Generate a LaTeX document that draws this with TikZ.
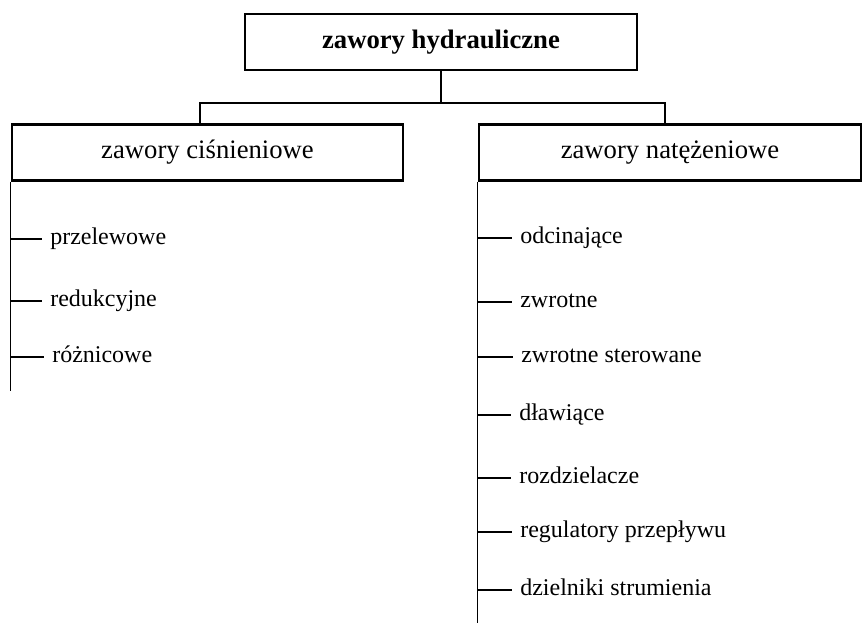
\documentclass[tikz,border=0pt]{standalone}
\usepackage{fontspec}
\setmainfont{Liberation Serif}
\begin{document}
\begin{tikzpicture}[x=0.75pt,y=-0.75pt,
  box/.style={draw,line width=2.2pt,minimum height=56*0.75pt,inner sep=0pt,font=\fontsize{20}{24}\selectfont},
  conn/.style={line width=0.8pt},
  branch/.style={line width=1.4pt},
  itm/.style={anchor=mid west,inner xsep=6pt,inner ysep=0pt,yshift=-1.5pt,font=\fontsize{18}{22}\selectfont}]
\useasboundingbox (0,0) rectangle (862,622);
\clip (0,0) rectangle (862,622);
\node[box,minimum width=392*0.75pt] (top) at (441,42) {\textbf{zawory hydrauliczne}};
\node[box,minimum width=391*0.75pt] (left) at (207.5,152.5) {zawory ciśnieniowe};
\node[box,minimum width=382*0.75pt] (right) at (670,152.5) {zawory natężeniowe};
\coordinate (bl) at (200,103);
\coordinate (br) at (665,103);
\draw[conn] (top.south) -- (top.south |- bl);
\draw[conn] (bl |- left.north) -- (bl) -- (br) -- (br |- right.north);
% left items
\draw[branch] (left.south west) -- ++(0,209) coordinate (lb);
\node[itm] (l1) at (42,239) {przelewowe};
\node[itm] (l2) at (42,301) {redukcyjne};
\node[itm] (l3) at (44,357) {różnicowe};
\foreach \n in {l1,l2,l3} {
  \coordinate (t\n) at ([yshift=1.5pt]\n.mid west);
  \draw[branch] (lb |- t\n) -- (t\n);
}
% right items
\draw[branch] (right.south west) -- ++(0,460) coordinate (rb);
\node[itm] (r1) at (512,238) {odcinające};
\node[itm] (r2) at (512,302) {zwrotne};
\node[itm] (r3) at (513,357) {zwrotne sterowane};
\node[itm] (r4) at (511,415) {dławiące};
\node[itm] (r5) at (511,478) {rozdzielacze};
\node[itm] (r6) at (512,532) {regulatory przepływu};
\node[itm] (r7) at (512,590) {dzielniki strumienia};
\foreach \n in {r1,r2,r3,r4,r5,r6,r7} {
  \coordinate (t\n) at ([yshift=1.5pt]\n.mid west);
  \draw[branch] (rb |- t\n) -- (t\n);
}
\end{tikzpicture}
\end{document}
